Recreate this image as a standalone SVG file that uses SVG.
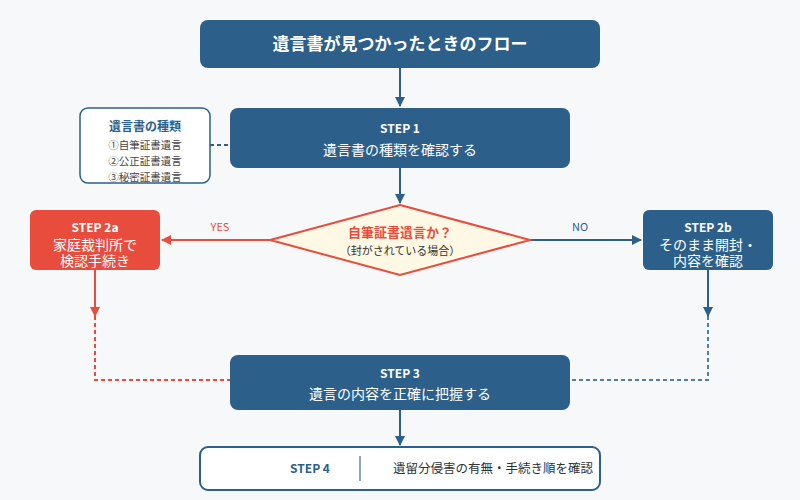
<svg xmlns="http://www.w3.org/2000/svg" width="800" height="500" viewBox="0 0 800 500">
<style>
text{font-family:"Noto Sans CJK JP","Noto Sans",sans-serif;text-anchor:middle}
.b{fill:#2c5f8a}.r{fill:#e84c3d}
.st{font-size:12px;font-weight:bold;fill:#fff}
.tx{font-size:14px;fill:#fff}
</style>
<defs>
<marker id="ab" markerWidth="10" markerHeight="10" refX="9" refY="5" orient="auto" markerUnits="userSpaceOnUse"><path d="M0,0L10,5L0,10z" fill="#2c5f8a"/></marker>
<marker id="ar" markerWidth="10" markerHeight="10" refX="9" refY="5" orient="auto" markerUnits="userSpaceOnUse"><path d="M0,0L10,5L0,10z" fill="#e84c3d"/></marker>
</defs>
<rect width="800" height="500" fill="#f6f8fa"/>
<g id="connectors" fill="none" stroke-width="2">
<path d="M400 68V106" stroke="#2c5f8a" marker-end="url(#ab)"/>
<path d="M210 145H230" stroke="#2c5f8a" stroke-dasharray="4 3"/>
<path d="M400 168V203" stroke="#2c5f8a" marker-end="url(#ab)"/>
<path d="M270 240H162" stroke="#e84c3d" marker-end="url(#ar)"/>
<path d="M530 240H641" stroke="#2c5f8a" marker-end="url(#ab)"/>
<path d="M95 270V316" stroke="#e84c3d" marker-end="url(#ar)"/>
<path d="M95 316V380H230" stroke="#e84c3d" stroke-dasharray="4 3"/>
<path d="M708 270V316" stroke="#2c5f8a" marker-end="url(#ab)"/>
<path d="M708 316V380H570" stroke="#2c5f8a" stroke-dasharray="4 3" opacity="0.8"/>
<path d="M400 410V445" stroke="#2c5f8a" marker-end="url(#ab)"/>
</g>
<g id="title"><rect x="200" y="20" width="400" height="48" rx="8" class="b"/><text x="400" y="50" font-size="17" font-weight="bold" fill="#fff">遺言書が見つかったときのフロー</text></g>
<g id="types"><rect x="80" y="108" width="130" height="75" rx="8" fill="#fff" stroke="#2c5f8a" stroke-width="1.5"/>
<text x="145" y="131" font-size="12" font-weight="bold" fill="#2c5f8a">遺言書の種類</text>
<text x="145" y="149" font-size="10.5" fill="#444">①自筆証書遺言</text>
<text x="145" y="165" font-size="10.5" fill="#444">②公正証書遺言</text>
<text x="145" y="181" font-size="10.5" fill="#444">③秘密証書遺言</text></g>
<g id="step1"><rect x="230" y="108" width="340" height="60" rx="8" class="b"/><text x="400" y="133" class="st">STEP 1</text><text x="400" y="155" class="tx" font-size="15">遺言書の種類を確認する</text></g>
<g id="decision"><path d="M400 205L530 240L400 275L270 240Z" fill="#fff8e4" stroke="#e84c3d" stroke-width="2"/>
<text x="400" y="237" font-size="13" font-weight="bold" fill="#e84c3d">自筆証書遺言か？</text>
<text x="400" y="255" font-size="11" fill="#333">（封がされている場合）</text></g>
<text x="220" y="231" font-size="11" fill="#e84c3d">YES</text>
<text x="580" y="231" font-size="11" fill="#2c5f8a">NO</text>
<g id="step2a"><rect x="30" y="210" width="130" height="60" rx="6" class="r"/><text x="95" y="232" class="st">STEP 2a</text><text x="95" y="250" class="tx" font-size="12">家庭裁判所で</text><text x="95" y="266" class="tx" font-size="12">検認手続き</text></g>
<g id="step2b"><rect x="643" y="210" width="130" height="60" rx="6" class="b"/><text x="708" y="232" class="st">STEP 2b</text><text x="708" y="250" class="tx" font-size="12">そのまま開封・</text><text x="708" y="266" class="tx" font-size="12">内容を確認</text></g>
<g id="step3"><rect x="230" y="355" width="340" height="55" rx="8" class="b"/><text x="400" y="378" class="st">STEP 3</text><text x="400" y="399" class="tx" font-size="15">遺言の内容を正確に把握する</text></g>
<g id="step4"><rect x="200" y="447" width="400" height="43" rx="8" fill="#fff" stroke="#2c5f8a" stroke-width="2"/>
<line x1="360" y1="456" x2="360" y2="481" stroke="#8aa7c0" stroke-width="2"/>
<text x="310" y="473" font-size="12" font-weight="bold" fill="#2c5f8a">STEP 4</text>
<text x="493" y="473" font-size="12.5" fill="#333">遺留分侵害の有無・手続き順を確認</text></g>
</svg>
